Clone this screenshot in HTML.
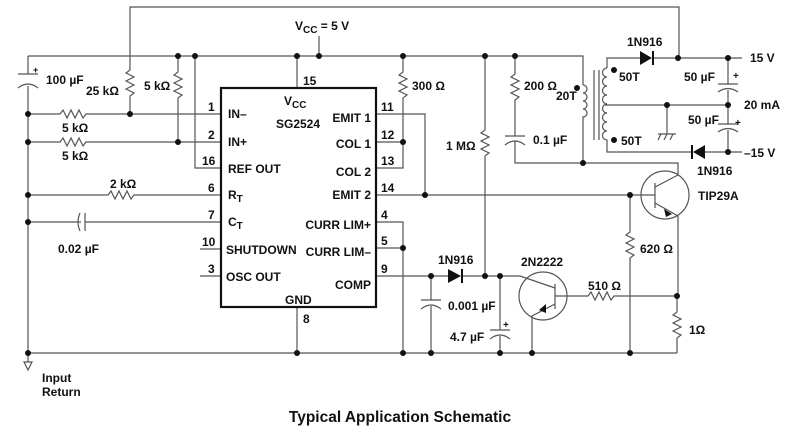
<!DOCTYPE html>
<html><head><meta charset="utf-8"><style>
body{margin:0;background:#fff}
svg{display:block}
text{font-family:"Liberation Sans",sans-serif;font-weight:bold;font-size:12px;fill:#111}
.w{stroke:#555;stroke-width:1.2;fill:none}
.k{stroke:#111;stroke-width:2.2;fill:none}
.s{font-size:10px}
</style></head><body>
<svg width="800" height="430" viewBox="0 0 800 430" xmlns="http://www.w3.org/2000/svg">
<g class="w">
<path d="M130 70V7H679V58"/>
<path d="M28 56H583V85 M319 36V56"/>
<path d="M28 56V74 M28 86V353 M28 353V362"/>
<path d="M18 74H38 M18 88 Q28 80 38 88"/>
<path d="M130 70l-4 3 8 4 -8 4 8 4 -8 4 8 4 -4 3V114"/>
<path d="M178 56V72l-4 3 8 4 -8 4 8 4 -8 4 8 4 -4 3V142"/>
<path d="M195 56V168H221"/>
<path d="M28 114H60l3 -4 4 8 4 -8 4 8 4 -8 4 8 3 -4H221"/>
<path d="M28 142H60l3 -4 4 8 4 -8 4 8 4 -8 4 8 3 -4H221"/>
<path d="M28 195H108l3 -4 4 8 4 -8 4 8 4 -8 4 8 3 -4H221"/>
<path d="M28 222H81 M85 222H221 M80 213 Q76 222 80 231 M85 213V231"/>
<path d="M200 249H221 M200 276H221"/>
<path d="M297 56V88 M297 307V353"/>
<path d="M376 114H425V195 M376 142H403 M376 168H403V142 M403 56V72l-4 3 8 4 -8 4 8 4 -8 4 8 4 -4 3V142"/>
<path d="M376 195H655 M376 222H403V353 M376 248H403"/>
<path d="M376 276H448 M463 276H520"/>
<path d="M485 56V130l-4 3 8 4 -8 4 8 4 -8 4 8 4 -4 3V276"/>
<path d="M515 56V74l-4 3 8 4 -8 4 8 4 -8 4 8 4 -4 3V136 M515 141V163H678V175 M505 136H525 M505 145Q515 137 525 145"/>
<path d="M583 85 a4 4 0 0 1 0 8 a4 4 0 0 1 0 8 a4 4 0 0 1 0 8 a4 4 0 0 1 0 8 V163"/>
<path d="M594 70V140 M599 70V140"/>
<path d="M607 68V58H640 M652 58H742 M607 68 a4 4 0 0 0 0 9 a4 4 0 0 0 0 9 a4 4 0 0 0 0 9 a4 4 0 0 0 0 9 a4 4 0 0 0 0 9 a4 4 0 0 0 0 9 a4 4 0 0 0 0 9 a4 4 0 0 0 0 9 V152H693 M705 152H742"/>
<path d="M605 105H728 M667 105V134 M658 134H676 M661 134l-3 6 M667 134l-3 6 M673 134l-3 6"/>
<path d="M728 58V84 M728 90V124 M728 130V152 M718 84H738 M718 92Q728 85 738 92 M718 124H738 M718 132Q728 125 738 132"/>
<circle cx="665" cy="195" r="24"/>
<path d="M655 183V208 M655 187L678 175 M655 203L678 216V296 M630 195V232l-4 3 8 4 -8 4 8 4 -8 4 8 4 -4 3V353"/>
<circle cx="543" cy="296" r="24"/>
<path d="M555 284V309 M520 276L555 288 M555 304L532 316V353 M555 296H588l3 -4 4 8 4 -8 4 8 4 -8 4 8 3 -4H677"/>
<path d="M677 296V312l-4 3 8 4 -8 4 8 4 -8 4 8 4 -4 3V353"/>
<path d="M431 276V300 M431 306V353 M421 300H441 M421 309Q431 301 441 309"/>
<path d="M500 276V330 M500 336V353 M490 330H510 M490 339Q500 331 510 339"/>
<path d="M28 353H677"/>
<path d="M24 362L28 370L32 362Z"/>
</g>
<rect x="221" y="88" width="155" height="219" class="k"/>
<g fill="#111">
<path d="M448 269L461 276L448 283Z"/><rect x="461" y="269" width="2" height="14"/>
<path d="M640 51L652 58L640 65Z"/><rect x="652" y="51" width="2" height="14"/>
<path d="M705 145L693 152L705 159Z"/><rect x="691" y="145" width="2" height="14"/>
<path d="M664 209L672 214L666 217Z"/>
<path d="M539 310L546 304L546 313Z"/>
<g>
<circle cx="178" cy="56" r="3"/><circle cx="195" cy="56" r="3"/><circle cx="297" cy="56" r="3"/><circle cx="319" cy="56" r="3"/><circle cx="403" cy="56" r="3"/><circle cx="485" cy="56" r="3"/><circle cx="515" cy="56" r="3"/>
<circle cx="28" cy="114" r="3"/><circle cx="28" cy="142" r="3"/><circle cx="28" cy="195" r="3"/><circle cx="28" cy="222" r="3"/><circle cx="28" cy="353" r="3"/>
<circle cx="130" cy="114" r="3"/><circle cx="178" cy="142" r="3"/><circle cx="403" cy="142" r="3"/><circle cx="425" cy="195" r="3"/><circle cx="630" cy="195" r="3"/><circle cx="403" cy="248" r="3"/>
<circle cx="431" cy="276" r="3"/><circle cx="485" cy="276" r="3"/><circle cx="500" cy="276" r="3"/><circle cx="583" cy="163" r="3"/>
<circle cx="678" cy="58" r="3"/><circle cx="728" cy="58" r="3"/><circle cx="728" cy="105" r="3"/><circle cx="667" cy="105" r="3"/><circle cx="728" cy="152" r="3"/>
<circle cx="577" cy="88" r="3"/><circle cx="614" cy="70" r="3"/><circle cx="614" cy="140" r="3"/>
<circle cx="677" cy="296" r="3"/>
<circle cx="297" cy="353" r="3"/><circle cx="403" cy="353" r="3"/><circle cx="431" cy="353" r="3"/><circle cx="500" cy="353" r="3"/><circle cx="532" cy="353" r="3"/><circle cx="630" cy="353" r="3"/>
</g></g>
<text x="295" y="30">V<tspan style="font-size:10px" dy="3">CC</tspan><tspan dy="-3"> = 5 V</tspan></text>
<text x="33" y="73" style="font-size:9px">+</text>
<text x="46" y="84">100 µF</text>
<text x="86" y="95">25 kΩ</text>
<text x="144" y="90">5 kΩ</text>
<text x="62" y="132">5 kΩ</text>
<text x="62" y="160">5 kΩ</text>
<text x="110" y="188">2 kΩ</text>
<text x="58" y="253">0.02 µF</text>
<text x="208" y="111">1</text><text x="208" y="139">2</text><text x="202" y="165">16</text><text x="208" y="192">6</text><text x="208" y="219">7</text><text x="202" y="246">10</text><text x="208" y="273">3</text>
<text x="303" y="85">15</text><text x="303" y="323">8</text>
<text x="381" y="111">11</text><text x="381" y="139">12</text><text x="381" y="165">13</text><text x="381" y="192">14</text><text x="381" y="219">4</text><text x="381" y="245">5</text><text x="381" y="273">9</text>
<text x="228" y="118">IN–</text><text x="228" y="146">IN+</text><text x="228" y="173">REF OUT</text>
<text x="228" y="199">R<tspan style="font-size:10px" dy="3">T</tspan></text>
<text x="228" y="226">C<tspan style="font-size:10px" dy="3">T</tspan></text>
<text x="226" y="254">SHUTDOWN</text><text x="226" y="281">OSC OUT</text>
<text x="284" y="105">V<tspan style="font-size:10px" dy="3">CC</tspan></text>
<text x="276" y="128">SG2524</text>
<text x="371" y="122" text-anchor="end">EMIT 1</text>
<text x="371" y="148" text-anchor="end">COL 1</text>
<text x="371" y="176" text-anchor="end">COL 2</text>
<text x="371" y="199" text-anchor="end">EMIT 2</text>
<text x="371" y="229" text-anchor="end">CURR LIM+</text>
<text x="371" y="256" text-anchor="end">CURR LIM–</text>
<text x="371" y="289" text-anchor="end">COMP</text>
<text x="285" y="304">GND</text>
<text x="412" y="90">300 Ω</text>
<text x="446" y="150">1 MΩ</text>
<text x="524" y="90">200 Ω</text>
<text x="533" y="144">0.1 µF</text>
<text x="556" y="100">20T</text>
<text x="619" y="81">50T</text><text x="621" y="145">50T</text>
<text x="627" y="46">1N916</text>
<text x="684" y="81">50 µF</text><text x="688" y="124">50 µF</text>
<text x="733" y="79" style="font-size:10px">+</text><text x="735" y="126" style="font-size:10px">+</text>
<text x="750" y="62">15 V</text><text x="744" y="109">20 mA</text><text x="744" y="157">–15 V</text>
<text x="697" y="175">1N916</text>
<text x="698" y="200">TIP29A</text>
<text x="640" y="253">620 Ω</text>
<text x="438" y="264">1N916</text>
<text x="521" y="266">2N2222</text>
<text x="448" y="310">0.001 µF</text>
<text x="450" y="341">4.7 µF</text>
<text x="503" y="328" style="font-size:10px">+</text>
<text x="588" y="290">510 Ω</text>
<text x="689" y="334">1Ω</text>
<text x="42" y="382">Input</text><text x="42" y="396">Return</text>
<text x="400" y="422" text-anchor="middle" style="font-size:15.5px">Typical Application Schematic</text>
</svg>
</body></html>
